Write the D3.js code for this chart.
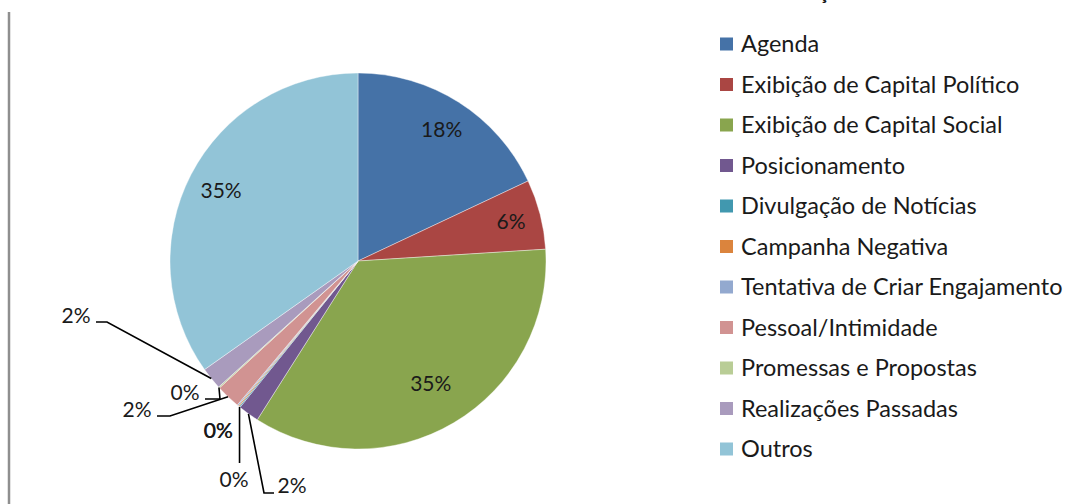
<!DOCTYPE html>
<html>
<head>
<meta charset="utf-8">
<script src="https://cdn.jsdelivr.net/npm/d3@7"></script>
<style>
  body { margin: 0; background: #fff; }
  text { font-family: Lato, "Open Sans", sans-serif; fill: #1a1a1a; }
</style>
</head>
<body>
<div id="chart"></div>
<script>
// categories and shares (percent)
var categories = [
    "Agenda",
    "Exibição de Capital Político",
    "Exibição de Capital Social",
    "Posicionamento",
    "Divulgação de Notícias",
    "Campanha Negativa",
    "Tentativa de Criar Engajamento",
    "Pessoal/Intimidade",
    "Promessas e Propostas",
    "Realizações Passadas",
    "Outros"
];
var values = [18, 6, 35, 1.8, 0.1, 0.1, 0.1, 2.1, 0.1, 1.9, 34.8];
var colors = ["#4572A7", "#AA4643", "#89A54E", "#71588F", "#4198AF", "#DB843D",
              "#93A9CF", "#D19392", "#B9CD96", "#A99BBD", "#92C4D7"];
var titleText = "Classificação";

var plotVariables = ({
    width: 1075,
    height: 504,
    cx: 358,
    cy: 261,
    radius: 188,
    legendX: 720,
    legendY: 44,
    legendSpacing: 40.5,
    fontSize: 21,
    legendFontSize: 23.5
});

// where the outside labels sit (offset from pie centre) and how the leader line attaches
var outsideLabels = new Map([
    [3, {dx: -66, dy: 225, side: "left", elbow: 10}],
    [4, {dx: -124, dy: 219, side: "top", elbow: 0}],
    [5, {dx: -140, dy: 170, side: "none"}],
    [6, {dx: -139.4, dy: 170, side: "none"}],
    [7, {dx: -221, dy: 149, side: "right", elbow: 13}],
    [8, {dx: -173, dy: 132, side: "right", elbow: 15}],
    [9, {dx: -282, dy: 55, side: "right", elbow: 11}]
]);
var insideRadius = [0.83, 0.84, 0.76, 0, 0, 0, 0, 0, 0, 0, 0.82];

var svg = d3.select("#chart").append("svg")
    .attr("width", plotVariables.width)
    .attr("height", plotVariables.height);

// left frame edge
svg.append("line")
    .attr("x1", 9).attr("x2", 9)
    .attr("y1", 12).attr("y2", plotVariables.height)
    .attr("stroke", "#8f8f8f")
    .attr("stroke-width", 2.5);

// title is cut off by the top edge in the original too
svg.append("text")
    .attr("x", 850)
    .attr("y", -1)
    .attr("text-anchor", "end")
    .attr("font-weight", "bold")
    .attr("font-size", "20px")
    .text(titleText);

var pie = d3.pie().sort(null).value(d => d);
var arcs = pie(values);

var arc = d3.arc().innerRadius(0).outerRadius(plotVariables.radius);
var edge = d3.arc().innerRadius(plotVariables.radius).outerRadius(plotVariables.radius);

var pieGroup = svg.append("g")
    .attr("transform", `translate(${plotVariables.cx},${plotVariables.cy})`);

pieGroup.selectAll("path")
    .data(arcs)
    .join("path")
    .attr("d", arc)
    .attr("fill", (d, i) => colors[i])
    .attr("stroke", "#fff")
    .attr("stroke-width", 0.4);

var pct = d => Math.round(d.data) + "%";

// labels inside the big slices
pieGroup.selectAll("text.inside")
    .data(arcs.filter((d, i) => insideRadius[i] > 0))
    .join("text")
    .attr("class", "inside")
    .attr("transform", d => {
        var r = plotVariables.radius * insideRadius[d.index];
        var c = d3.arc().innerRadius(r).outerRadius(r).centroid(d);
        return `translate(${c[0]},${c[1]})`;
    })
    .attr("text-anchor", "middle")
    .attr("dy", "0.35em")
    .attr("font-size", plotVariables.fontSize + "px")
    .text(pct);

// small slices: labels outside with leader lines
var small = arcs.filter(d => outsideLabels.has(d.index));

pieGroup.selectAll("path.leader")
    .data(small.filter(d => outsideLabels.get(d.index).side !== "none"))
    .join("path")
    .attr("class", "leader")
    .attr("fill", "none")
    .attr("stroke", "#000")
    .attr("stroke-width", 1.6)
    .attr("d", d => {
        var l = outsideLabels.get(d.index);
        var a = edge.centroid(d);
        var p;
        if (l.side === "left") p = [[l.dx - 18, l.dy + 7], [l.dx - 18 - l.elbow, l.dy + 7]];
        else if (l.side === "right") p = [[l.dx + 20, l.dy + 6], [l.dx + 20 + l.elbow, l.dy + 6]];
        else p = [[a[0], l.dy - 17]];
        return d3.line()(p.concat([a]));
    });

pieGroup.selectAll("text.outside")
    .data(small)
    .join("text")
    .attr("class", "outside")
    .attr("x", d => outsideLabels.get(d.index).dx)
    .attr("y", d => outsideLabels.get(d.index).dy)
    .attr("text-anchor", "middle")
    .attr("dy", "0.35em")
    .attr("font-size", plotVariables.fontSize + "px")
    .text(pct);

// legend
var legend = svg.append("g")
    .attr("transform", `translate(${plotVariables.legendX},${plotVariables.legendY})`);

legend.selectAll("rect")
    .data(categories)
    .join("rect")
    .attr("x", 0)
    .attr("y", (d, i) => plotVariables.legendSpacing * i - 6.5)
    .attr("width", 13)
    .attr("height", 13)
    .attr("fill", (d, i) => colors[i]);

legend.selectAll("text")
    .data(categories)
    .join("text")
    .attr("x", 21)
    .attr("y", (d, i) => plotVariables.legendSpacing * i)
    .attr("dy", "0.35em")
    .attr("font-size", plotVariables.legendFontSize + "px")
    .text(d => d);
</script>
</body>
</html>
